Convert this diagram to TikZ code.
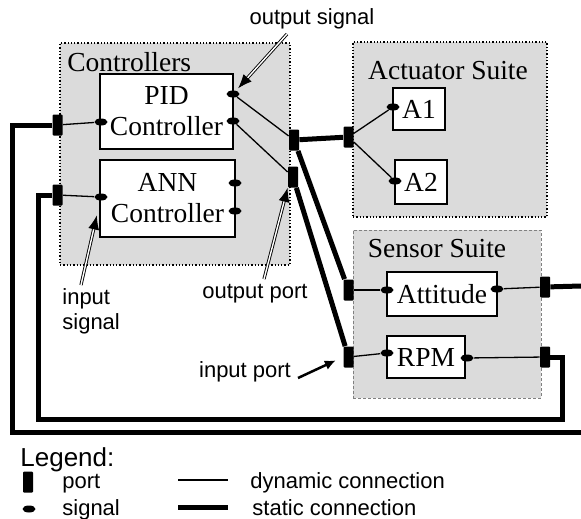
\documentclass[tikz,border=0pt]{standalone}
\usepackage{fontspec}
\setmainfont{Liberation Serif}
\setsansfont{Liberation Sans}
\usetikzlibrary{shapes.geometric}
\usetikzlibrary{positioning}
\usetikzlibrary{arrows.meta}
\definecolor{suitegray}{gray}{0.86}

\begin{document}
\begin{tikzpicture}[
	x=1pt, y=-1pt,
	thick,
	font=\fontsize{27.5}{31}\selectfont
]
\tikzset{
    suitebox/.style = {rectangle, draw=black, dotted, line width=1.3pt, fill=suitegray, inner sep=0pt},
    compbox/.style = {rectangle, draw=black, line width=1.5pt, fill=white, align=center, inner sep=0pt},
    portbox/.style = {rectangle, fill=black, rounded corners=1pt, minimum width=10pt, minimum height=21pt, inner sep=0pt},
    sigdot/.style = {ellipse, fill=black, minimum width=13pt, minimum height=7pt, inner sep=0pt},
    dynconn/.style = {-, line width=1.3pt},
    statconn/.style = {-, line width=5pt},
    callout/.style = {double, double distance=1.4pt, line width=0.9pt, -{Latex[length=14pt,width=11pt]}},
    pointer/.style = {line width=2.5pt, -{Latex[length=11pt,width=10pt]}},
    note/.style = {font=\sffamily\fontsize{22}{25}\selectfont, inner sep=0pt}
}
\useasboundingbox (0,0) rectangle (581,519);
% suites
\node[suitebox, minimum width=230pt, minimum height=222pt] at (175,154) (ctrl) {};
\node[suitebox, minimum width=194pt, minimum height=175pt] at (450,129.5) (act) {};
\node[suitebox, draw=gray, dash pattern=on 3pt off 2pt, line width=0.8pt,
      minimum width=188pt, minimum height=168pt] at (447,314) (sens) {};
\node[anchor=base west, inner sep=0pt] at (67,71) (ctrllbl) {Controllers};
\node[anchor=base, inner sep=0pt] at (448,80) (actlbl) {Actuator Suite};
\node[anchor=base, inner sep=0pt] at (437,257) (senslbl) {Sensor Suite};
% components
\node[compbox, minimum width=133pt, minimum height=75pt] at (166.5,111.5) (pid) {PID\\Controller};
\node[compbox, minimum width=135pt, minimum height=77pt] at (167.5,198.5) (ann) {ANN\\Controller};
\node[compbox, minimum width=52pt, minimum height=42pt] at (419,109) (aone) {A1};
\node[compbox, minimum width=52pt, minimum height=44pt] at (421,182) (atwo) {A2};
\node[compbox, minimum width=110pt, minimum height=44pt] at (442,294) (att) {Attitude};
\node[compbox, minimum width=78pt, minimum height=42pt] at (426,357) (rpm) {RPM};
% signals
\node[sigdot] at (101,122) (pidin) {};
\node[sigdot] at (233,94) (pidouta) {};
\node[sigdot] at (233,121) (pidoutb) {};
\node[sigdot] at (101,197) (annin) {};
\node[sigdot] at (235,183) (annouta) {};
\node[sigdot] at (235,211) (annoutb) {};
\node[sigdot] at (393,107) (aonein) {};
\node[sigdot] at (395,181) (atwoin) {};
\node[sigdot] at (387,290) (attin) {};
\node[sigdot] at (497,289) (attout) {};
\node[sigdot] at (387,353) (rpmin) {};
\node[sigdot] at (467,358) (rpmout) {};
% ports
\node[portbox] at (57.5,125) (pidport) {};
\node[portbox] at (57.5,195) (annport) {};
\node[portbox] at (294,140) (ctrlporta) {};
\node[portbox] at (293,177) (ctrlportb) {};
\node[portbox] at (348.5,137) (actport) {};
\node[portbox] at (348.5,290) (attport) {};
\node[portbox] at (348.5,357) (rpmport) {};
\node[portbox] at (545,287) (attoutport) {};
\node[portbox] at (545,357) (rpmoutport) {};
%
\coordinate (loopa) at (12,432);
\coordinate (eastsa) at (581,432);
\coordinate (loopb) at (38,419);
\coordinate (loopc) at (562,419);
\coordinate (eastsb) at (581,286);
% dynamic connections
\draw[dynconn] (pidport) -- (pidin);
\draw[dynconn] (annport) -- (annin);
\draw[dynconn] (pidouta) -- (ctrlporta);
\draw[dynconn] (pidoutb) -- (ctrlportb);
\draw[dynconn] (actport) -- (aonein);
\draw[dynconn] (actport) -- (atwoin);
\draw[dynconn] (attport) -- (attin);
\draw[dynconn] (rpmport) -- (rpmin);
\draw[dynconn] (attout) -- (attoutport);
\draw[dynconn] (rpmout) -- (rpmoutport);
% static connections
\draw[statconn] (ctrlporta) -- (actport);
\draw[statconn] (ctrlporta) -- (attport);
\draw[statconn] (ctrlportb) -- (rpmport);
\draw[statconn] (pidport) -| (loopa) -- (eastsa);
\draw[statconn] (annport) -| (loopb) -- (loopc) |- (rpmoutport);
\draw[statconn] (attoutport) -- (eastsb);
% callouts
\node[note] at (312,19) (outsiglbl) {output signal};
\node[note, align=left, anchor=west] at (62,311) (insiglbl) {input\\signal};
\node[note] at (255,294) (outportlbl) {output port};
\node[note] at (245,372) (inportlbl) {input port};
\coordinate (outsigtail) at (287,34);
\coordinate (insigtail) at (81,285);
\coordinate (outporttail) at (264,279);
\coordinate (inporttail) at (298,378);
\draw[callout, shorten >=3pt] (outsigtail) -- (pidouta);
\draw[callout, shorten >=15pt] (insigtail) -- (annin);
\draw[callout] (outporttail) -- (ctrlportb.south west);
\draw[pointer, shorten >=8pt] (inporttail) -- (rpmport.west);
% legend
\node[anchor=base west, inner sep=0pt, font=\sffamily\fontsize{26}{28}\selectfont] at (20,466) (legendlbl) {Legend:};
\node[portbox] at (28,482) (legport) {};
\node[sigdot] at (29,509) (legsig) {};
\node[note, anchor=base west] at (62,488) (legporttxt) {port};
\node[note, anchor=base west] at (62,515) (legsigtxt) {signal};
\coordinate (legdyna) at (178,480);
\coordinate (legdynb) at (228,480);
\coordinate (legstata) at (178,507.5);
\coordinate (legstatb) at (228,507.5);
\draw[dynconn] (legdyna) -- (legdynb);
\draw[statconn] (legstata) -- (legstatb);
\node[note, anchor=base west] at (250,488) (legdyntxt) {dynamic connection};
\node[note, anchor=base west] at (252,515) (legstattxt) {static connection};
\end{tikzpicture}
\end{document}
